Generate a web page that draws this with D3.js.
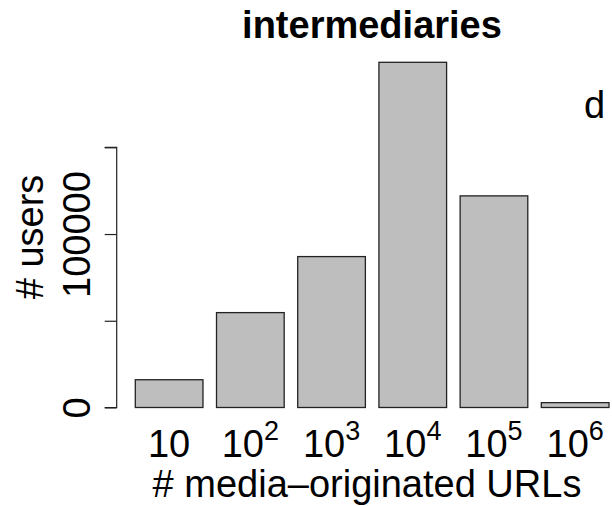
<!DOCTYPE html>
<html>
<head>
<meta charset="utf-8">
<script src="https://cdn.jsdelivr.net/npm/d3@7"></script>
<style>
  html, body { margin: 0; padding: 0; background: #fff; }
  svg { display: block; font-family: "Liberation Sans", Arial, Helvetica, sans-serif; }
</style>
</head>
<body>
<svg id="chart" width="612" height="506"></svg>
<script>
// Users per bin of media-originated URL counts
const categories = ["1", "2", "3", "4", "5", "6"];   // powers of ten
const userCounts = [16000, 54700, 87000, 199000, 122000, 2800];
const yTicks = [0, 50000, 100000, 150000];
const yTickLabels = ["0", "", "100000", ""];

const svg = d3.select("#chart");

const x = d3.scaleBand()
  .domain(categories)
  .range([135.3, 609])
  .paddingInner(1 / 6)
  .paddingOuter(0);

const y = d3.scaleLinear()
  .domain([0, 150000])
  .range([407.5, 147.3]);

// Bars
svg.append("g")
  .selectAll("rect")
  .data(categories.map((c, i) => ({ c, v: userCounts[i] })))
  .join("rect")
  .attr("x", d => x(d.c))
  .attr("y", d => y(d.v))
  .attr("width", x.bandwidth())
  .attr("height", d => y(0) - y(d.v))
  .attr("fill", "#bebebe")
  .attr("stroke", "#222")
  .attr("stroke-width", 1.3);

// Y axis
const yAxis = d3.axisLeft(y)
  .tickValues(yTicks)
  .tickSize(12)
  .tickFormat((d, i) => yTickLabels[i]);

const gy = svg.append("g")
  .attr("transform", "translate(116.7,0)")
  .call(yAxis);
gy.select(".domain").attr("stroke", "#222").attr("stroke-width", 1.2)
  .attr("d", `M-12,${y(0)}H0V${y(150000)}H-12`);
gy.selectAll(".tick line").attr("stroke", "#222").attr("stroke-width", 1.2);
gy.selectAll(".tick text")
  .attr("font-size", 38)
  .attr("fill", "#000")
  .attr("text-anchor", "middle")
  .attr("x", null)
  .attr("dy", null)
  .attr("transform", "translate(-27,0) rotate(-90)");

// X tick labels: 10, 10^2, ..., 10^6
const xLabels = svg.append("g");
categories.forEach(c => {
  const t = xLabels.append("text")
    .attr("x", x(c) + x.bandwidth() / 2)
    .attr("y", 457)
    .attr("text-anchor", "middle")
    .attr("font-size", 38)
    .attr("fill", "#000");
  t.append("tspan").text("10");
  if (c !== "1") {
    t.append("tspan")
      .attr("font-size", 27)
      .attr("dy", -17)
      .text(c);
  }
});

// Axis titles
svg.append("text")
  .attr("x", 367)
  .attr("y", 497)
  .attr("text-anchor", "middle")
  .attr("font-size", 38)
  .attr("fill", "#000")
  .text("# media\u2013originated URLs");

svg.append("text")
  .attr("transform", "translate(43,237) rotate(-90)")
  .attr("text-anchor", "middle")
  .attr("font-size", 38)
  .attr("fill", "#000")
  .text("# users");

// Title
svg.append("text")
  .attr("x", 372)
  .attr("y", 37.5)
  .attr("text-anchor", "middle")
  .attr("font-size", 38)
  .attr("font-weight", "bold")
  .attr("fill", "#000")
  .text("intermediaries");

// Panel letter
svg.append("text")
  .attr("x", 584)
  .attr("y", 118)
  .attr("font-size", 38)
  .attr("fill", "#000")
  .text("d");
</script>
</body>
</html>
